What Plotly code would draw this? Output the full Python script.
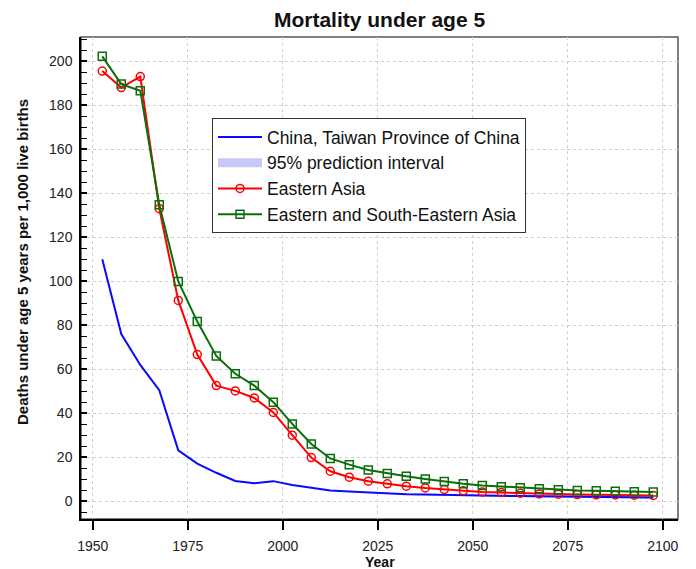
import plotly.graph_objects as go

years = [1952.5, 1957.5, 1962.5, 1967.5, 1972.5, 1977.5, 1982.5, 1987.5, 1992.5, 1997.5,
         2002.5, 2007.5, 2012.5, 2017.5, 2022.5, 2027.5, 2032.5, 2037.5, 2042.5, 2047.5,
         2052.5, 2057.5, 2062.5, 2067.5, 2072.5, 2077.5, 2082.5, 2087.5, 2092.5, 2097.5]

china_taiwan = [110.0, 76.0, 62.0, 50.5, 23.2, 17.2, 13.0, 9.3, 8.2, 9.2,
                7.5, 6.1, 5.0, 4.5, 4.0, 3.6, 3.3, 3.1, 2.9, 2.8,
                2.6, 2.5, 2.4, 2.3, 2.2, 2.1, 2.0, 1.9, 1.8, 1.8]

pi_years = [2022.5, 2027.5, 2032.5, 2037.5, 2042.5, 2047.5, 2052.5, 2057.5,
            2062.5, 2067.5, 2072.5, 2077.5, 2082.5, 2087.5, 2092.5, 2097.5]
pi_lower = [3.8, 3.3, 2.9, 2.7, 2.5, 2.3, 2.1, 2.0, 1.9, 1.8, 1.6, 1.5, 1.4, 1.3, 1.2, 1.2]
pi_upper = [4.2, 3.9, 3.7, 3.5, 3.4, 3.3, 3.1, 3.0, 2.9, 2.8, 2.8, 2.7, 2.6, 2.5, 2.4, 2.4]

eastern_asia = [195.5, 188.0, 193.0, 133.0, 91.3, 66.7, 52.6, 50.2, 47.0, 40.4,
                30.1, 19.9, 13.7, 11.0, 9.2, 8.0, 6.9, 6.1, 5.4, 4.8,
                4.3, 4.0, 3.7, 3.4, 3.3, 3.1, 3.0, 2.9, 2.8, 2.7]

eastern_se_asia = [202.2, 189.6, 186.6, 134.8, 99.9, 81.7, 66.1, 58.0, 52.6, 45.1,
                   35.2, 26.1, 19.5, 16.7, 14.3, 12.7, 11.4, 10.2, 9.0, 8.0,
                   7.2, 6.7, 6.2, 5.8, 5.3, 5.0, 4.8, 4.6, 4.4, 4.3]

x_ticks = [1950, 1975, 2000, 2025, 2050, 2075, 2100]

FONT = "Liberation Sans"
BLUE = "#0a0aff"
BAND = "#c8c8f8"
RED = "#ff0000"
GREEN = "#0a6e0a"

# page has an 8px body margin: figure is drawn at (8, 8)
W, H = 688, 561
PL, PT, PR, PB = 73, 29, 670, 511  # plot area in figure pixels
PW, PH = PR - PL, PB - PT

fig = go.Figure()

# prediction interval band
fig.add_trace(go.Scatter(x=pi_years, y=pi_lower, mode="lines", line=dict(width=0, color=BAND),
                         showlegend=False, hoverinfo="skip"))
fig.add_trace(go.Scatter(x=pi_years, y=pi_upper, mode="lines", line=dict(width=0, color=BAND),
                         fill="tonexty", fillcolor=BAND, showlegend=False, hoverinfo="skip"))

fig.add_trace(go.Scatter(x=years, y=china_taiwan, mode="lines", name="China, Taiwan Province of China",
                         line=dict(color=BLUE, width=2)))
fig.add_trace(go.Scatter(x=[None], y=[None], mode="lines", name="95% prediction interval",
                         line=dict(color=BAND, width=9)))
fig.add_trace(go.Scatter(x=years, y=eastern_asia, mode="lines+markers", name="Eastern Asia",
                         line=dict(color=RED, width=2),
                         marker=dict(symbol="circle-open", size=8, color=RED, line=dict(width=1.5))))
fig.add_trace(go.Scatter(x=years, y=eastern_se_asia, mode="lines+markers", name="Eastern and South-Eastern Asia",
                         line=dict(color=GREEN, width=2),
                         marker=dict(symbol="square-open", size=8, color=GREEN, line=dict(width=1.5))))

fig.update_layout(
    width=W, height=H,
    margin=dict(l=PL, r=W - PR, t=PT, b=H - PB),
    paper_bgcolor="white", plot_bgcolor="white",
    font=dict(family=FONT, color="#1a1a1a"),
    title=dict(text="<b>Mortality under age 5</b>", x=0.5, xref="paper", xanchor="center",
               y=1 - 12 / H, yref="container", yanchor="middle",
               font=dict(family=FONT, size=21, color="#111")),
    showlegend=True,
    legend=dict(x=(204 - PL) / PW, y=(PB - 110) / PH, xanchor="left", yanchor="top", bgcolor="white",
                bordercolor="#333", borderwidth=1, font=dict(family=FONT, size=17.5, color="#111"),
                itemwidth=44, tracegroupgap=0, traceorder="normal", entrywidth=290),
    shapes=[dict(type="rect", xref="paper", yref="paper", x0=0, x1=1, y0=0, y1=1,
                 line=dict(color="#555", width=1.5), layer="below")],
    annotations=[
        dict(text="<b>Deaths under age 5 years per 1,000 live births</b>", xref="paper", yref="paper",
             x=(14 - PL) / PW, y=(PB - 254) / PH, xanchor="center", yanchor="middle",
             textangle=-90, showarrow=False, font=dict(family=FONT, size=15, color="#111")),
        dict(text="<b>Year</b>", xref="paper", yref="paper", x=0.5, y=(PB - 554) / PH,
             xanchor="center", yanchor="middle", showarrow=False,
             font=dict(family=FONT, size=14, color="#111")),
    ],
)

fig.update_xaxes(range=[1946.9, 2104.0], tickvals=x_ticks, ticktext=[str(v) for v in x_ticks],
                 ticks="outside", ticklen=9, tickcolor="black", tickwidth=1.5,
                 showline=True, linecolor="black", linewidth=1.5,
                 showgrid=True, gridcolor="#cfcfcf", griddash="dot", gridwidth=1,
                 zeroline=False, ticklabelstandoff=4,
                 tickfont=dict(family=FONT, size=14, color="#222"))

fig.update_yaxes(range=[-8, 211], tick0=0, dtick=20,
                 ticks="inside", ticklen=6, tickcolor="black", tickwidth=1.5,
                 minor=dict(tick0=0, dtick=5, ticks="inside", ticklen=6, tickcolor="black", tickwidth=1.2, showgrid=False),
                 showline=True, linecolor="black", linewidth=1.5,
                 showgrid=True, gridcolor="#cfcfcf", griddash="dot", gridwidth=1,
                 zeroline=False, ticklabelstandoff=4,
                 tickfont=dict(family=FONT, size=14, color="#222"))

fig.write_html("out.html")
